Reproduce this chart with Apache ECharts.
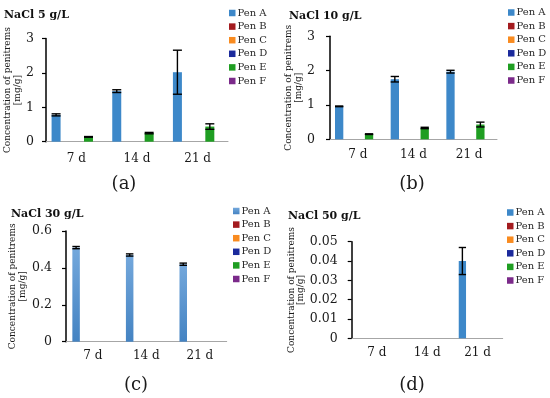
<!DOCTYPE html>
<html><head><meta charset="utf-8">
<script src="https://cdn.jsdelivr.net/npm/echarts@6/dist/echarts.min.js"></script>
<style>html,body{margin:0;padding:0;background:#fff}#c{width:550px;height:398px}</style>
</head><body><div id="c"></div>
<script>
const categories = ['7 d', '14 d', '21 d'];
const penNames = ['Pen A', 'Pen B', 'Pen C', 'Pen D', 'Pen E', 'Pen F'];
const panelTitles = ['NaCl 5 g/L', 'NaCl 10 g/L', 'NaCl 30 g/L', 'NaCl 50 g/L'];
const panelCaptions = ['(a)', '(b)', '(c)', '(d)'];
const yAxisName = 'Concentration of penitrems\n[mg/g]';

// Panel (a) NaCl 5 g/L
const a_penA = [0.78, 1.47, 2.02];
const a_penA_err = [0.03, 0.04, 0.64];
const a_penB = [0, 0, 0];
const a_penC = [0, 0, 0];
const a_penD = [0, 0, 0];
const a_penE = [0.14, 0.25, 0.44];
const a_penE_err = [0.01, 0.02, 0.08];
const a_penF = [0, 0, 0];
const a_yTicks = [0, 1, 2, 3];

// Panel (b) NaCl 10 g/L
const b_penA = [0.96, 1.75, 1.97];
const b_penA_err = [0.01, 0.08, 0.04];
const b_penB = [0, 0, 0];
const b_penC = [0, 0, 0];
const b_penD = [0, 0, 0];
const b_penE = [0.15, 0.33, 0.43];
const b_penE_err = [0.01, 0.02, 0.07];
const b_penF = [0, 0, 0];
const b_yTicks = [0, 1, 2, 3];

// Panel (c) NaCl 30 g/L
const c_penA = [0.51, 0.47, 0.42];
const c_penA_err = [0.006, 0.006, 0.006];
const c_penB = [0, 0, 0];
const c_penC = [0, 0, 0];
const c_penD = [0, 0, 0];
const c_penE = [0, 0, 0];
const c_penF = [0, 0, 0];
const c_yTicks = [0, 0.2, 0.4, 0.6];

// Panel (d) NaCl 50 g/L
const d_penA = [0, 0, 0.04];
const d_penA_err = [0, 0, 0.007];
const d_penB = [0, 0, 0];
const d_penC = [0, 0, 0];
const d_penD = [0, 0, 0];
const d_penE = [0, 0, 0];
const d_penF = [0, 0, 0];
const d_yTicks = [0, 0.01, 0.02, 0.03, 0.04, 0.05];

// ---- styling ----
const FONT = 'DejaVu Serif';
const TXT = '#1a1a1a';
const penColors = ['#3d88c9', '#a31b1f', '#f98b1f', '#1b2a9c', '#1f9e22', '#7b2a8a'];
const gradA = {type: 'linear', x: 0, y: 0, x2: 0, y2: 1,
  colorStops: [{offset: 0, color: '#74a8dc'}, {offset: 1, color: '#4483c2'}]};

const panels = [
  {vals: [a_penA, a_penB, a_penC, a_penD, a_penE, a_penF], errs: {0: a_penA_err, 4: a_penE_err}, ticks: a_yTicks,
   grid: {left: 46, top: 38.5, width: 182, height: 103.2}, barW: 9, gap: -0.10, labM: 12, xLabM: 11,
   legend: {left: 229, top: 8}, title: {left: 4, top: 10}, cap: [124, 184], nameGap: 24, colorA: penColors[0]},
  {vals: [b_penA, b_penB, b_penC, b_penD, b_penE, b_penF], errs: {0: b_penA_err, 4: b_penE_err}, ticks: b_yTicks,
   grid: {left: 330, top: 36.3, width: 167, height: 103}, barW: 8.3, gap: -0.10, labM: 15, xLabM: 10,
   legend: {left: 508, top: 7.5}, title: {left: 289, top: 10.5}, cap: [412, 184], nameGap: 26, colorA: penColors[0]},
  {vals: [c_penA, c_penB, c_penC, c_penD, c_penE, c_penF], errs: {0: c_penA_err}, ticks: c_yTicks,
   grid: {left: 66, top: 231, width: 160.7, height: 110.7}, barW: 7.5, gap: -0.11, labM: 14, xLabM: 8,
   legend: {left: 233, top: 206}, title: {left: 11, top: 209}, cap: [136, 385], nameGap: 39, colorA: gradA},
  {vals: [d_penA, d_penB, d_penC, d_penD, d_penE, d_penF], errs: {0: d_penA_err}, ticks: d_yTicks,
   grid: {left: 351.7, top: 241.7, width: 151, height: 96.6}, barW: 7.3, gap: -0.17, labM: 14, xLabM: 9,
   legend: {left: 507, top: 207.5}, title: {left: 288, top: 211}, cap: [412, 385], nameGap: 46, colorA: penColors[0]}
];

const option = {
  animation: false,
  backgroundColor: '#fff',
  grid: [], xAxis: [], yAxis: [], series: [], legend: [], title: [], graphic: []
};

panels.forEach((p, gi) => {
  option.grid.push(Object.assign({containLabel: false}, p.grid));
  option.xAxis.push({
    type: 'category', gridIndex: gi, data: categories,
    axisLine: {lineStyle: {color: '#a6a6a6', width: 1}},
    axisTick: {show: false},
    axisLabel: {color: TXT, fontFamily: FONT, fontSize: 12, margin: p.xLabM}
  });
  const t = p.ticks;
  option.yAxis.push({
    type: 'value', gridIndex: gi, min: t[0], max: t[t.length - 1], interval: t[1] - t[0],
    axisLine: {show: true, lineStyle: {color: '#000', width: 1.5}},
    axisTick: {show: true, length: 4, lineStyle: {color: '#000', width: 1.2}},
    splitLine: {show: false},
    axisLabel: {color: TXT, fontFamily: FONT, fontSize: 12.5, margin: p.labM,
      formatter: v => String(+v.toFixed(4))},
    name: yAxisName, nameLocation: 'middle', nameRotate: 90, nameGap: p.nameGap,
    nameTextStyle: {color: TXT, fontFamily: FONT, fontSize: 9, lineHeight: 9.5}
  });
  const pitch = p.barW * (1 + p.gap);
  p.vals.forEach((arr, k) => {
    const color = k === 0 ? p.colorA : penColors[k];
    option.series.push({
      type: 'bar', name: penNames[k], xAxisIndex: gi, yAxisIndex: gi,
      data: arr, barWidth: p.barW, barGap: (p.gap * 100) + '%',
      itemStyle: {color: color}
    });
    if (p.errs[k]) {
      const errArr = p.errs[k];
      const off = (k - 2.5) * pitch;
      const bw = p.barW;
      option.series.push({
        type: 'custom', name: penNames[k] + ' error', xAxisIndex: gi, yAxisIndex: gi, z: 5,
        data: arr.map((v, i) => [i, v, errArr[i]]),
        renderItem: function (params, api) {
          const v = api.value(1), e = api.value(2);
          if (!v) return;
          const top = api.coord([api.value(0), v + e]);
          const bot = api.coord([api.value(0), v - e]);
          const x = top[0] + off;
          const st = {stroke: '#000', lineWidth: 1.4};
          return {type: 'group', children: [
            {type: 'line', shape: {x1: x, y1: top[1], x2: x, y2: bot[1]}, style: st},
            {type: 'line', shape: {x1: x - bw / 2, y1: top[1], x2: x + bw / 2, y2: top[1]}, style: st},
            {type: 'line', shape: {x1: x - bw / 2, y1: bot[1], x2: x + bw / 2, y2: bot[1]}, style: st}
          ]};
        }
      });
    }
  });
  option.legend.push({
    orient: 'vertical', left: p.legend.left, top: p.legend.top, padding: 0,
    itemWidth: 6.5, itemHeight: 6.5, itemGap: 3.6, icon: 'rect',
    textStyle: {color: '#2a2a2a', fontFamily: FONT, fontSize: 10, padding: [0, 0, 0, -3]},
    data: penNames.map((n, k) => ({name: n, itemStyle: {color: k === 0 ? p.colorA : penColors[k]}}))
  });
  option.title.push({
    text: panelTitles[gi], left: p.title.left, top: p.title.top, padding: 0,
    textStyle: {color: '#111', fontFamily: FONT, fontSize: 11, fontWeight: 'bold'}
  });
  option.graphic.push({
    type: 'text', x: p.cap[0], y: p.cap[1],
    style: {text: panelCaptions[gi], fill: TXT, font: '18px "DejaVu Serif"', align: 'center', verticalAlign: 'middle'}
  });
});

const chart = echarts.init(document.getElementById('c'), null, {renderer: 'canvas'});
chart.setOption(option);
</script>
</body></html>
